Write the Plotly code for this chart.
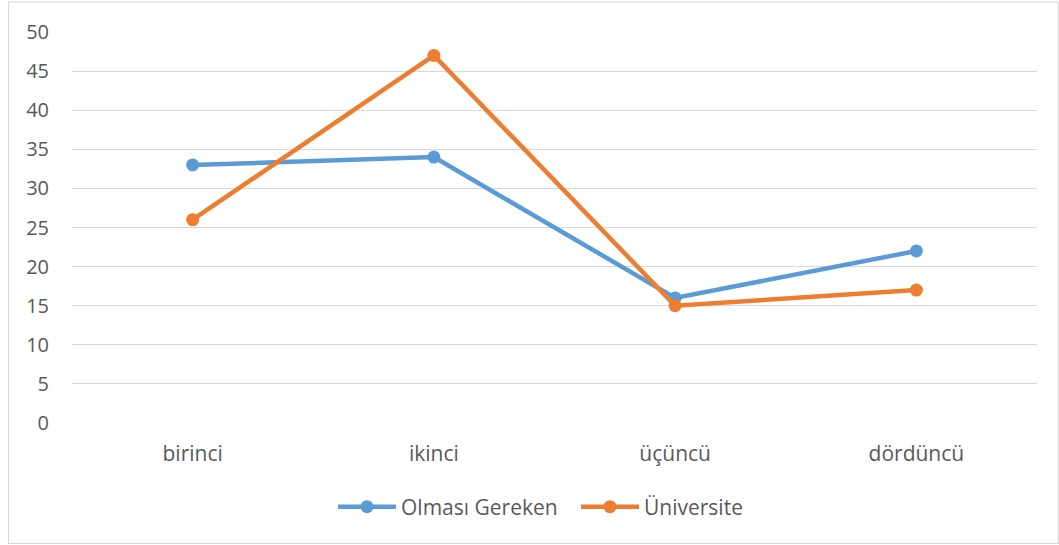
import plotly.graph_objects as go

categories = ["birinci", "ikinci", "üçüncü", "dördüncü"]
olmasi_gereken = [33, 34, 16, 22]
universite = [26, 47, 15, 17]
y_ticks = [0, 5, 10, 15, 20, 25, 30, 35, 40, 45, 50]

W, H = 1059, 545
L, R, T, B = 72, 22, 32, 122
pw, ph = W - L - R, H - T - B

def px_x(x):
    return (x - L) / pw

def px_y(y):
    return (H - B - y) / ph

fig = go.Figure()
fig.add_trace(go.Scatter(x=categories, y=olmasi_gereken, name="Olması Gereken",
                         mode="lines+markers",
                         line=dict(color="#5B9BD5", width=4.5),
                         marker=dict(size=13, color="#5B9BD5")))
fig.add_trace(go.Scatter(x=categories, y=universite, name="Üniversite",
                         mode="lines+markers",
                         line=dict(color="#ED7D31", width=4.5),
                         marker=dict(size=13, color="#ED7D31")))

font = dict(family="'Open Sans', sans-serif", size=21, color="#595959")
yfont = dict(family="'Open Sans', sans-serif", size=20, color="#595959")

fig.update_layout(
    width=W, height=H,
    margin=dict(l=L, r=R, t=T, b=B),
    paper_bgcolor="white", plot_bgcolor="white",
    font=font,
    showlegend=True,
    legend=dict(orientation="h", x=px_x(333), xanchor="left",
                y=px_y(507), yanchor="middle", font=font,
                itemwidth=58, tracegroupgap=0, entrywidth=170,
                entrywidthmode="pixels"),
    xaxis=dict(type="category", range=[-0.5, 3.5], showgrid=False,
               showline=False, zeroline=False, ticks="",
               ticklabelstandoff=16, tickfont=font),
    yaxis=dict(range=[0, 50], tickvals=y_ticks, showgrid=True,
               gridcolor="#D9D9D9", gridwidth=1.3, zeroline=False,
               showline=False, ticks="", ticklabelstandoff=22,
               tickfont=yfont),
    shapes=[dict(type="rect", xref="paper", yref="paper",
                 x0=px_x(8.5), x1=px_x(1058.5), y0=px_y(543.5), y1=px_y(2),
                 line=dict(color="#D9D9D9", width=1.2), layer="below")],
)

fig.write_html("out.html", config={"displayModeBar": False},
               post_script="document.body.style.margin='0';document.body.style.padding='0';")
